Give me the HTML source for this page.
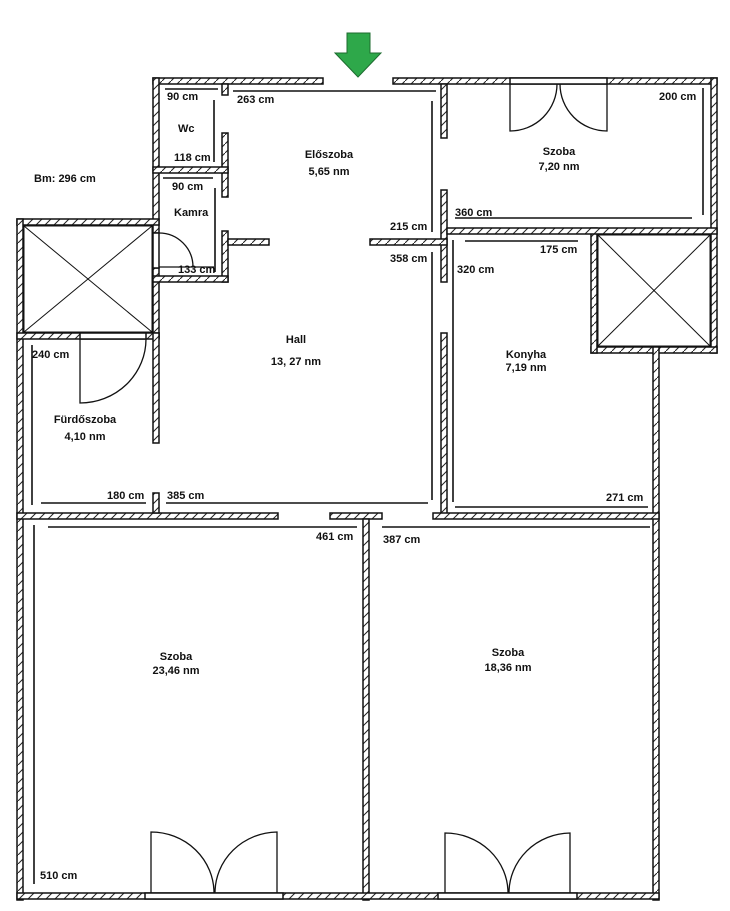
<!DOCTYPE html>
<html><head><meta charset="utf-8"><style>
html,body{margin:0;padding:0;background:#fff}
svg{display:block}
text{font-family:"Liberation Sans",sans-serif;font-weight:bold;font-size:11px;fill:#111}
</style></head><body>
<svg width="730" height="911" viewBox="0 0 730 911" xmlns="http://www.w3.org/2000/svg">
<defs>
<pattern id="h" width="9" height="9" patternUnits="userSpaceOnUse">
<rect width="9" height="9" fill="#fff"/>
<line x1="0" y1="9" x2="9" y2="0" stroke="#222" stroke-width="1"/>
</pattern>
</defs>
<g fill="url(#h)" stroke="#111" stroke-width="1.5">
<!-- top outer -->
<rect x="153" y="78" width="170" height="6"/>
<rect x="393" y="78" width="324" height="6"/>
<!-- right outer -->
<rect x="711" y="78" width="6" height="275"/>
<rect x="591" y="347" width="126" height="6"/>
<rect x="653" y="347" width="6" height="553"/>
<!-- wc/kamra left -->
<rect x="153" y="78" width="6" height="155"/>
<rect x="153" y="268" width="6" height="70"/>
<!-- left block -->
<rect x="17" y="219" width="142" height="6"/>
<rect x="17" y="219" width="6" height="681"/>
<rect x="17" y="333" width="142" height="6"/>
<rect x="153" y="333" width="6" height="110"/>
<!-- shafts -->
<rect x="591" y="228" width="6" height="125"/>
<!-- wc right -->
<rect x="222" y="84" width="6" height="11"/>
<rect x="222" y="133" width="6" height="64"/>
<rect x="153" y="167" width="75" height="6"/>
<!-- kamra -->
<rect x="222" y="231" width="6" height="51"/>
<rect x="153" y="276" width="75" height="6"/>
<rect x="228" y="239" width="41" height="6"/>
<!-- hall right -->
<rect x="441" y="84" width="6" height="54"/>
<rect x="441" y="190" width="6" height="92"/>
<rect x="370" y="239" width="77" height="6"/>
<rect x="447" y="228" width="270" height="6"/>
<rect x="441" y="333" width="6" height="185"/>
<!-- hall bottom -->
<rect x="17" y="513" width="261" height="6"/>
<rect x="153" y="493" width="6" height="20"/>
<rect x="330" y="513" width="52" height="6"/>
<rect x="433" y="513" width="226" height="6"/>
<rect x="363" y="519" width="6" height="381"/>
<!-- bottom -->
<rect x="17" y="893" width="642" height="6"/>
</g>
<!-- door frames (white) -->
<g fill="#fff" stroke="#111" stroke-width="1.5">
<rect x="510" y="78" width="97" height="6"/>
<rect x="80" y="333" width="66" height="6"/>
<rect x="145" y="893" width="138" height="6"/>
<rect x="438" y="893" width="139" height="6"/>
<rect x="153" y="233" width="6" height="35"/>
</g>
<!-- shafts X -->
<g fill="none" stroke="#111" stroke-width="1">
<rect x="24" y="226" width="128" height="106"/>
<line x1="24" y1="226" x2="152" y2="332"/><line x1="152" y1="226" x2="24" y2="332"/>
<rect x="598" y="235" width="112" height="111"/>
<line x1="598" y1="235" x2="710" y2="346"/><line x1="710" y1="235" x2="598" y2="346"/>
</g>
<!-- doors -->
<g fill="none" stroke="#111" stroke-width="1.3">
<path d="M510 84 V131 A47 47 0 0 0 557 84"/>
<path d="M607 84 V131 A47 47 0 0 1 560 84"/>
<path d="M80 339 V403 A66 64 0 0 0 146 339"/>
<path d="M159 233 A34 34 0 0 1 193 267 M159 267 H214"/>
<path d="M151 893 V832 A63 61 0 0 1 214 893"/>
<path d="M277 893 V832 A63 61 0 0 0 215 893"/>
<path d="M445 893 V833 A63 60 0 0 1 508 893"/>
<path d="M570 893 V833 A62 60 0 0 0 509 893"/>
</g>
<!-- dimension lines -->
<g stroke="#111" stroke-width="1.6">
<line x1="233" y1="91" x2="436" y2="91"/>
<line x1="432" y1="101" x2="432" y2="232"/>
<line x1="432" y1="252" x2="432" y2="500"/>
<line x1="165" y1="89" x2="218" y2="89"/>
<line x1="214" y1="100" x2="214" y2="162"/>
<line x1="163" y1="178" x2="213" y2="178"/>
<line x1="215" y1="188" x2="215" y2="272"/>
<line x1="455" y1="218" x2="692" y2="218"/>
<line x1="703" y1="88" x2="703" y2="215"/>
<line x1="465" y1="241" x2="578" y2="241"/>
<line x1="453" y1="240" x2="453" y2="502"/>
<line x1="455" y1="507" x2="648" y2="507"/>
<line x1="32" y1="345" x2="32" y2="505"/>
<line x1="41" y1="503" x2="146" y2="503"/>
<line x1="166" y1="503" x2="428" y2="503"/>
<line x1="48" y1="527" x2="357" y2="527"/>
<line x1="382" y1="527" x2="650" y2="527"/>
<line x1="34" y1="525" x2="34" y2="884"/>
</g>
<!-- arrow -->
<path d="M347 33 H370 V53 H381 L358 77 L335 53 H347 Z" fill="#2ea84a" stroke="#1d6b2f" stroke-width="1"/>
<!-- labels -->
<text x="167" y="100">90 cm</text>
<text x="237" y="103">263 cm</text>
<text x="178" y="132">Wc</text>
<text x="174" y="161">118 cm</text>
<text x="172" y="190">90 cm</text>
<text x="174" y="216">Kamra</text>
<text x="178" y="273">133 cm</text>
<text x="34" y="182">Bm: 296 cm</text>
<text x="329" y="158" text-anchor="middle">Előszoba</text>
<text x="329" y="175" text-anchor="middle">5,65 nm</text>
<text x="390" y="230">215 cm</text>
<text x="390" y="262">358 cm</text>
<text x="559" y="155" text-anchor="middle">Szoba</text>
<text x="559" y="170" text-anchor="middle">7,20 nm</text>
<text x="659" y="100">200 cm</text>
<text x="455" y="216">360 cm</text>
<text x="540" y="253">175 cm</text>
<text x="457" y="273">320 cm</text>
<text x="526" y="358" text-anchor="middle">Konyha</text>
<text x="526" y="371" text-anchor="middle">7,19 nm</text>
<text x="606" y="501">271 cm</text>
<text x="296" y="343" text-anchor="middle">Hall</text>
<text x="296" y="365" text-anchor="middle">13, 27 nm</text>
<text x="32" y="358">240 cm</text>
<text x="85" y="423" text-anchor="middle">Fürdőszoba</text>
<text x="85" y="440" text-anchor="middle">4,10 nm</text>
<text x="107" y="499">180 cm</text>
<text x="167" y="499">385 cm</text>
<text x="316" y="540">461 cm</text>
<text x="383" y="543">387 cm</text>
<text x="176" y="660" text-anchor="middle">Szoba</text>
<text x="176" y="674" text-anchor="middle">23,46 nm</text>
<text x="508" y="656" text-anchor="middle">Szoba</text>
<text x="508" y="671" text-anchor="middle">18,36 nm</text>
<text x="40" y="879">510 cm</text>
</svg>
</body></html>
